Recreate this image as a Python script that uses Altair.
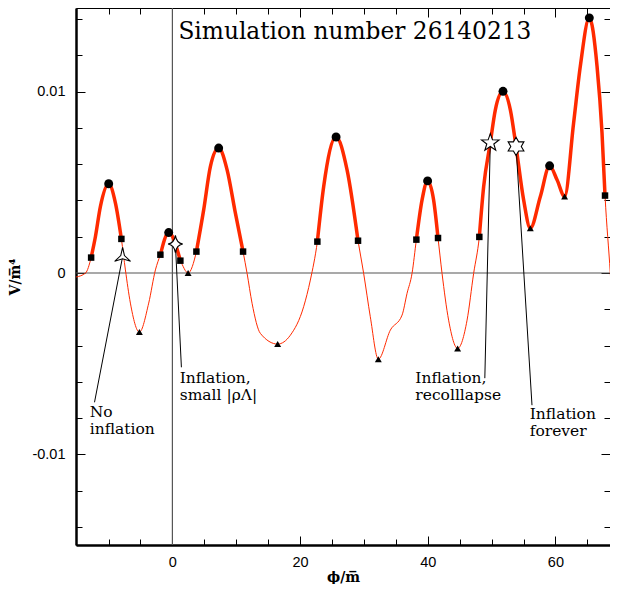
import altair as alt
import pandas as pd

# ---- curve (phi, V) ----
curve_x = [-15.08, -13.6, -12.73, -12.06, -11.28, -9.98, -8.93, -7.99, -7.36, -6.58,
           -5.17, -3.71, -2.66, -1.88, -0.58, 1.25, 2.46, 3.76, 4.90, 5.95,
           7.25, 8.57, 9.87, 11.07, 11.70, 12.48, 13.78, 16.49, 18.48, 20.56,
           21.61, 22.71, 23.70, 25.64, 27.36, 29.08, 29.96, 31.0, 32.26, 34.14,
           35.98, 36.76, 37.54, 38.22, 39.11, 39.98, 40.92, 41.61, 42.24, 43.27,
           44.68, 46.16, 47.19, 48.08, 48.76, 49.8, 50.59, 51.79, 52.94, 53.83,
           55.02, 56.07, 57.64, 59.09, 60.25, 61.44, 62.85, 63.9, 65.31, 66.52,
           67.3, 67.77, 68.6, 69.65]
curve_y = [-0.00022, 0.0, 0.00085, 0.0020, 0.00366, 0.00492, 0.00387, 0.00188, 0.00017, -0.00166,
           -0.00326, -0.00166, 0.00017, 0.00101, 0.00223, 0.00068, 0.0, 0.00118, 0.00348, 0.00587,
           0.00689, 0.00569, 0.0033, 0.00118, -0.00002, -0.00167, -0.00333, -0.00392, -0.00343, -0.00186,
           -0.00039, 0.00173, 0.00477, 0.0075, 0.00569, 0.00178, -0.00002, -0.00241, -0.00475, -0.00315,
           -0.00232, -0.00112, -0.00002, 0.00184, 0.00403, 0.00508, 0.00403, 0.00193, -0.00002, -0.0026,
           -0.00416, -0.0026, -0.00002, 0.00199, 0.00477, 0.00718, 0.009, 0.01002, 0.009, 0.00698,
           0.00403, 0.00247, 0.00422, 0.00591, 0.00514, 0.00422, 0.00827, 0.0114, 0.01407, 0.0114,
           0.00772, 0.00427, -0.00002, -0.00646]

# maxima (circles)
max_x = [-9.98, -0.58, 7.25, 25.64, 39.98, 51.79, 59.09, 65.31]
max_y = [0.00492, 0.00223, 0.00689, 0.0075, 0.00508, 0.01002, 0.00591, 0.01407]
# minima (triangles)
min_x = [-5.17, 2.46, 16.49, 32.26, 44.68, 56.07, 61.44]
min_y = [-0.00326, 0.0, -0.00392, -0.00475, -0.00416, 0.00247, 0.00422]
# squares (ends of the slow-roll regions)
sq_x = [-12.73, -7.99, -1.88, 1.25, 3.76, 11.07, 22.71, 29.08, 38.22, 41.61, 48.08, 67.77]
sq_y = [0.00085, 0.00188, 0.00101, 0.00068, 0.00118, 0.00118, 0.00173, 0.00178, 0.00184, 0.00193, 0.00199, 0.00427]

# stars and their callouts
star_x = [-7.8, 0.47, 49.8, 53.83]
star_y = [0.0009, 0.0016, 0.00718, 0.00698]
lead_x2 = [-12.2, 1.41, 48.94, 56.33]
lead_y2 = [-0.00713, -0.0052, -0.0058, -0.00729]

ann_text = ["No", "inflation", "Inflation,", "small |\u03c1\u039b|", "Inflation,", "recolllapse",
            "Inflation", "forever"]
ann_x = [-12.95, -12.95, 1.14, 1.14, 38.06, 38.06, 55.97, 55.97]
ann_y = [-0.00796, -0.0089, -0.00608, -0.00702, -0.00608, -0.00702, -0.00807, -0.00901]

title_text = ["Simulation number 26140213"]
title_x = [0.94]
title_y = [0.01293]

x_major = [0, 20, 40, 60]
x_minor = [-10, -5, 5, 10, 15, 25, 30, 35, 45, 50, 55, 65]
y_major = [-0.01, 0, 0.01]
y_minor = [-0.014, -0.012, -0.008, -0.006, -0.004, -0.002, 0.002, 0.004, 0.006, 0.008, 0.012, 0.014]

XDOM = [-15.1, 68.55]
YDOM = [-0.015, 0.014614]
RED = "#ff2a00"

curve = pd.DataFrame({"x": curve_x, "y": curve_y})
thick_parts = []
for k in range(0, len(sq_x), 2):
    a, b = sq_x[k], sq_x[k + 1]
    part = curve[(curve.x >= a - 1e-9) & (curve.x <= b + 1e-9)].copy()
    part["seg"] = k
    thick_parts.append(part)
thick = pd.concat(thick_parts)

xs = alt.Scale(domain=XDOM, nice=False, zero=False)
ys = alt.Scale(domain=YDOM, nice=False, zero=False)

ax_x = alt.Axis(values=x_major, title="\u03d5/m\u0305", tickSize={"expr": "-9"}, labelPadding=19,
                domainWidth=2.5, domainColor="black", tickColor="black", tickWidth=1,
                labelFont="Liberation Sans", labelFontSize=14.5, labelColor="black",
                labelFlush=False, grid=False, titleFont="DejaVu Serif", titleFontSize=14,
                titleFontWeight="bold", titleColor="black", titlePadding=2)
ax_y = alt.Axis(values=y_major, title="V/m\u0305\u2074", tickSize={"expr": "-9"}, labelPadding=20,
                domainWidth=2.5, domainColor="black", tickColor="black", tickWidth=1,
                labelFont="Liberation Sans", labelFontSize=14.5, labelColor="black",
                labelExpr="(datum.value < 0 ? '-' : '') + format(abs(datum.value), '~g')",
                labelFlush=False, grid=False, titleFont="DejaVu Serif", titleFontSize=14,
                titleFontWeight="bold", titleColor="black", titlePadding=9)

X = alt.X("x:Q", scale=xs, axis=ax_x)
Y = alt.Y("y:Q", scale=ys, axis=ax_y)

zero_h = alt.Chart(pd.DataFrame({"y": [0.0]})).mark_rule(color="#555555", strokeWidth=1.2).encode(y=Y)
zero_v = alt.Chart(pd.DataFrame({"x": [0.0]})).mark_rule(color="#555555", strokeWidth=1.2).encode(x=X)

thin_line = alt.Chart(curve).mark_line(color=RED, strokeWidth=1, interpolate="monotone", clip=True).encode(x=X, y=Y)
thick_line = alt.Chart(thick).mark_line(color=RED, strokeWidth=3.5, interpolate="monotone", clip=True).encode(
    x=X, y=Y, detail="seg:N")

leads = alt.Chart(pd.DataFrame({"x": star_x, "y": star_y, "x2": lead_x2, "y2": lead_y2})).mark_rule(
    color="black", strokeWidth=1).encode(x=X, y=Y, x2="x2:Q", y2="y2:Q")

circles = alt.Chart(pd.DataFrame({"x": max_x, "y": max_y})).mark_point(
    shape="circle", filled=True, color="black", size=80, opacity=1).encode(x=X, y=Y)
squares = alt.Chart(pd.DataFrame({"x": sq_x, "y": sq_y})).mark_point(
    shape="square", filled=True, color="black", size=42, opacity=1).encode(x=X, y=Y)
tris = alt.Chart(pd.DataFrame({"x": min_x, "y": min_y})).mark_point(
    shape="triangle-up", filled=True, color="black", size=48, opacity=1).encode(x=X, y=Y)

star_paths = [
    "M0,-1 L0.2,-0.12 L0.866,0.5 L0,0.22 L-0.866,0.5 L-0.2,-0.12 Z",
    "M0,-1 Q0.12,-0.12 0.85,0 Q0.12,0.12 0,1 Q-0.12,0.12 -0.85,0 Q-0.12,-0.12 0,-1 Z",
    "M0,-1 L0.235,-0.324 L0.951,-0.309 L0.38,0.124 L0.588,0.809 L0,0.4 L-0.588,0.809 L-0.38,0.124 L-0.951,-0.309 L-0.235,-0.324 Z",
    "M0,-1 L0.289,-0.5 L0.866,-0.5 L0.577,0 L0.866,0.5 L0.289,0.5 L0,1 L-0.289,0.5 L-0.866,0.5 L-0.577,0 L-0.866,-0.5 L-0.289,-0.5 Z",
]
star_sizes = [340, 300, 340, 330]
stars = []
for i in range(4):
    stars.append(alt.Chart(pd.DataFrame({"x": [star_x[i]], "y": [star_y[i]]})).mark_point(
        shape=star_paths[i], filled=True, fill="white", stroke="black", strokeWidth=1.1,
        size=star_sizes[i], opacity=1).encode(x=X, y=Y))

ann = alt.Chart(pd.DataFrame({"x": ann_x, "y": ann_y, "t": ann_text})).mark_text(
    align="left", baseline="alphabetic", font="DejaVu Serif", fontSize=15.5, color="black").encode(
    x=X, y=Y, text="t:N")
title = alt.Chart(pd.DataFrame({"x": title_x, "y": title_y, "t": title_text})).mark_text(
    align="left", baseline="alphabetic", font="DejaVu Serif", fontSize=23.3, color="black").encode(
    x=X, y=Y, text="t:N")

main = alt.layer(zero_h, zero_v, thin_line, thick_line, leads, circles, squares, tris, *stars, ann, title)

dummy = pd.DataFrame({"x": max_x, "y": max_y})


def tick_layer(xvals, yvals, xorient, yorient, size):
    return alt.Chart(dummy).mark_point(opacity=0).encode(
        x=alt.X("x:Q", scale=xs, axis=alt.Axis(values=xvals, orient=xorient, labels=False, title=None,
                                               domain=False, grid=False, tickColor="black", tickWidth=1,
                                               tickSize={"expr": str(-size)})),
        y=alt.Y("y:Q", scale=ys, axis=alt.Axis(values=yvals, orient=yorient, labels=False, title=None,
                                               domain=False, grid=False, tickColor="black", tickWidth=1,
                                               tickSize={"expr": str(-size)})),
    )


minor_bl = tick_layer(x_minor, y_minor, "bottom", "left", 6)
major_tr = tick_layer(x_major, y_major, "top", "right", 9)
minor_tr = tick_layer(x_minor, y_minor, "top", "right", 6)

chart = alt.layer(main, minor_bl, major_tr, minor_tr).resolve_axis(
    x="independent", y="independent"
).properties(
    width=534, height=537,
    padding={"left": 68, "top": 0, "right": 0, "bottom": 39},
    autosize=alt.AutoSizeParams(type="none"),
    background="white",
).configure_view(stroke="black", strokeWidth=1)

chart.save("out.html", embed_options={"renderer": "svg", "actions": False})
